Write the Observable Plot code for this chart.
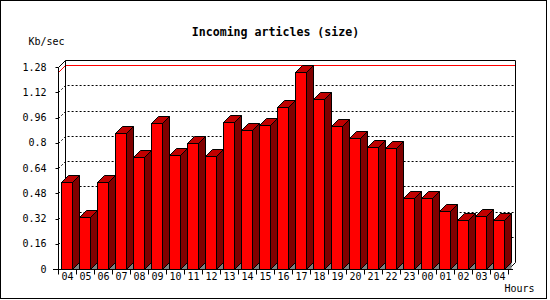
<!DOCTYPE html>
<html>
<head>
<meta charset="utf-8">
<script src="https://cdn.jsdelivr.net/npm/d3@7"></script>
<script src="https://cdn.jsdelivr.net/npm/@observablehq/plot@0.6"></script>
<style>
  html, body { margin: 0; padding: 0; background: #fff; }
  #wrap { position: relative; width: 550px; height: 300px; overflow: hidden; background: #fff; }
  #wrap svg { display: block; }
  #border { position: absolute; left: 0; top: 0; width: 547px; height: 299px; box-sizing: border-box; border: 1px solid #000; pointer-events: none; }
</style>
</head>
<body>
<div id="wrap"><div id="border"></div></div>
<script>
// ---- data ----
const hours = ["04","05","06","07","08","09","10","11","12","13","14","15","16","17","18","19","20","21","22","23","00","01","02","03","04"];
const sizes = [0.549,0.328,0.549,0.860,0.708,0.925,0.720,0.797,0.716,0.930,0.880,0.910,1.027,1.248,1.077,0.904,0.830,0.771,0.765,0.452,0.452,0.366,0.309,0.334,0.312];
const yTicks = [0, 0.16, 0.32, 0.48, 0.64, 0.8, 0.96, 1.12, 1.28];
const titleText = "Incoming articles (size)";
const unitLabel = "Kb/sec";
const hourLabel = "Hours";

const rows = sizes.map((v, i) => ({i, hour: hours[i], v}));
const maxSize = d3.max(sizes);
const n = hours.length;

// ---- style ----
const D = 7;                 // 3D depth in pixels
const FRONT = "#ff0000", SIDE = "#800000", TOP = "#c00000", FLOOR = "#808080";
const MONO = "DejaVu Sans Mono, Liberation Mono, monospace";

function geometry(scales) {
  const x = scales.x, y = scales.y;
  const bw = typeof x.bandwidth === "function" ? x.bandwidth() : (x(1) - x(0));
  const tick = k => Math.ceil((k < n ? x(k) : x(n - 1) + bw) - 1e-6);
  const yy = v => Math.round(y(v));
  return {x, y, bw, tick, yy, X0: tick(0), X1: tick(n), Y0: yy(0), YT: yy(yTicks[yTicks.length - 1])};
}
const P = v => v + 0.5;

// back wall: dotted grid, max line, frame of the back plane
function backWall(index, scales) {
  const {tick, yy, X0, X1, Y0, YT} = geometry(scales);
  const g = d3.create("svg:g").attr("fill", "none");
  for (const t of yTicks) {
    if (t <= 0 || t >= yTicks[yTicks.length - 1]) continue;
    const Y = yy(t);
    g.append("path")
      .attr("d", `M${P(X0)},${P(Y)}L${P(X0 + D)},${P(Y - D)}L${P(X1 + D)},${P(Y - D)}`)
      .attr("stroke", "#000").attr("stroke-dasharray", "2,2");
  }
  const M = yy(maxSize);
  g.append("path")
    .attr("d", `M${P(X0)},${P(M)}L${P(X0 + D)},${P(M - D)}L${P(X1 + D)},${P(M - D)}`)
    .attr("stroke", "#ff0000");
  g.append("path")
    .attr("d", `M${P(X0 + D)},${P(Y0 - D)}L${P(X0 + D)},${P(YT - D)}L${P(X1 + D)},${P(YT - D)}L${P(X1 + D)},${P(Y0 - D)}`)
    .attr("stroke", "#000");
  g.append("path")
    .attr("d", `M${P(X0)},${P(YT)}L${P(X0 + D)},${P(YT - D)}M${P(X1)},${P(Y0)}L${P(X1 + D)},${P(Y0 - D)}`)
    .attr("stroke", "#000");
  return g.node();
}

// the 3D bars, drawn through the x (band) and y (linear) scales
function bars3d(index, scales) {
  const {tick, yy, Y0} = geometry(scales);
  const g = d3.create("svg:g").attr("stroke-linejoin", "miter");
  rows.forEach(d => {
    const L = tick(d.i) + 3, R = tick(d.i) + 14, T = yy(d.v), B = Y0;
    g.append("path")
      .attr("d", `M${P(R)},${P(B)}L${P(R + D)},${P(B - D)}L${P(R + D)},${P(B)}Z`)
      .attr("fill", FLOOR);
    g.append("path")
      .attr("d", `M${P(R)},${P(B)}L${P(R)},${P(T)}L${P(R + D)},${P(T - D)}L${P(R + D)},${P(B - D)}Z`)
      .attr("fill", SIDE).attr("stroke", "#000");
    g.append("path")
      .attr("d", `M${P(L)},${P(T)}L${P(L + D)},${P(T - D)}L${P(R + D)},${P(T - D)}L${P(R)},${P(T)}Z`)
      .attr("fill", TOP).attr("stroke", "#000");
    g.append("rect")
      .attr("x", P(L)).attr("y", P(T)).attr("width", R - L).attr("height", B - T)
      .attr("fill", FRONT).attr("stroke", "#000");
  });
  return g.node();
}

// front axis lines and tick marks
function frontAxes(index, scales) {
  const {tick, yy, X0, X1, Y0, YT} = geometry(scales);
  const g = d3.create("svg:g").attr("fill", "none").attr("stroke", "#000");
  g.append("path").attr("d", `M${P(X0)},${P(Y0)}L${P(X0)},${P(YT)}M${P(X0)},${P(Y0)}L${P(X1)},${P(Y0)}`);
  let d = "";
  for (let k = 0; k <= n; ++k) d += `M${P(tick(k))},${P(Y0)}L${P(tick(k))},${P(Y0 + 5)}`;
  for (const t of yTicks) d += `M${P(X0 - 3)},${P(yy(t))}L${P(X0)},${P(yy(t))}`;
  g.append("path").attr("d", d);
  return g.node();
}

const chart = Plot.plot({
  width: 550,
  height: 300,
  marginLeft: 53,
  marginRight: 37,
  marginTop: 67,
  marginBottom: 31,
  style: {fontFamily: MONO, fontSize: "10px", color: "#000", background: "transparent"},
  x: {type: "band", domain: d3.range(n), padding: 0, axis: null},
  y: {domain: [0, 1.28], ticks: yTicks, tickSize: 0, tickPadding: 7, tickFormat: d => String(d), label: null},
  marks: [
    backWall,
    bars3d,
    Plot.ruleY([0], {stroke: "#000"}),
    frontAxes,
    Plot.text(rows, {x: "i", text: "hour", frameAnchor: "bottom", dy: 10.5, fill: "#000"}),
    Plot.text([titleText], {text: d => d, frameAnchor: "top", dx: -8, dy: -40, fontWeight: "bold", fontSize: 11.6, fill: "#000"}),
    Plot.text([unitLabel], {text: d => d, frameAnchor: "top-left", textAnchor: "start", dx: -25, dy: -30, fill: "#000"}),
    Plot.text([hourLabel], {text: d => d, frameAnchor: "bottom-right", textAnchor: "start", dx: -9, dy: 22.5, fill: "#000"})
  ]
});
document.getElementById("wrap").insertBefore(chart, document.getElementById("border"));
</script>
</body>
</html>
